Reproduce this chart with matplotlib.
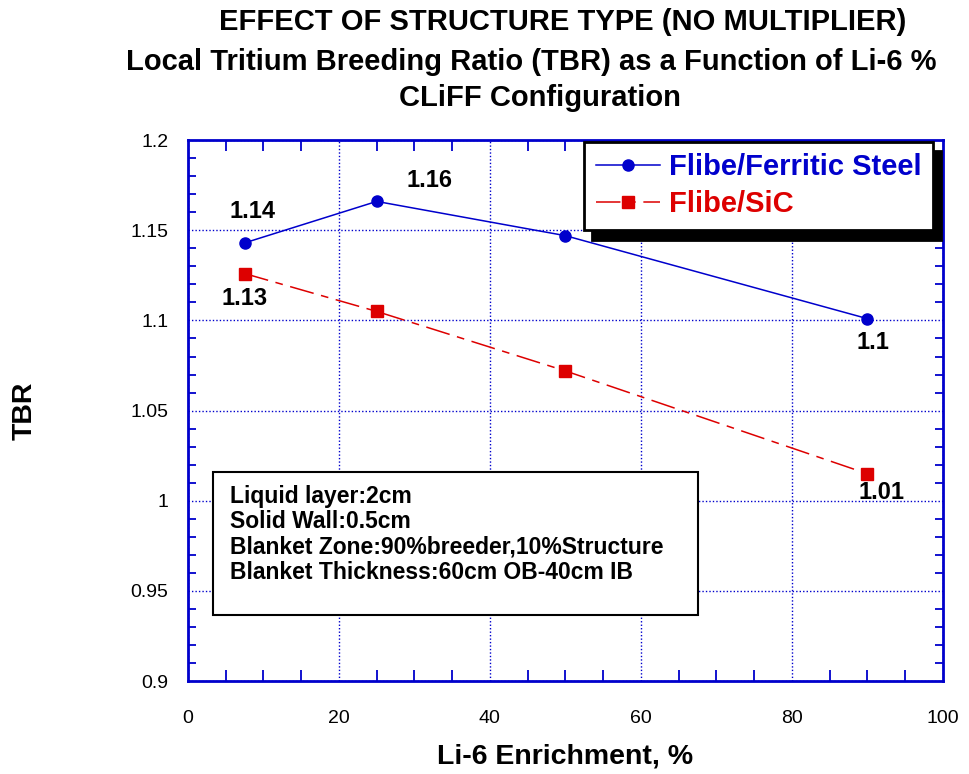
import numpy as np
import matplotlib.pyplot as plt
from matplotlib.ticker import MultipleLocator
from matplotlib.patches import Rectangle

plt.rcParams['font.family'] = ['Liberation Sans', 'DejaVu Sans']

## Data
li6 = [7.5, 25, 50, 90]
tbr_fs = [1.143, 1.166, 1.147, 1.101]
tbr_sic = [1.126, 1.105, 1.072, 1.015]
lbl_fs = ['1.14', '1.16', '', '1.1']
lbl_sic = ['1.13', '', '', '1.01']
ytick_vals = [0.9, 0.95, 1.0, 1.05, 1.1, 1.15, 1.2]
ytick_lbls = ['0.9', '0.95', '1', '1.05', '1.1', '1.15', '1.2']
title_lines = ['EFFECT OF STRUCTURE TYPE (NO MULTIPLIER)',
               'Local Tritium Breeding Ratio (TBR) as a Function of Li-6 %',
               'CLiFF Configuration']

blue = '#0000cc'
red = '#dd0000'

fig = plt.figure(figsize=(9.69, 7.74), dpi=100)
ax = fig.add_axes([0.194, 0.120, 0.779, 0.699])

ax.plot(li6, tbr_fs, color=blue, lw=1.1, marker='o', ms=8, label='Flibe/Ferritic Steel')
ax.plot(li6, tbr_sic, color=red, lw=1.1, marker='s', ms=8.5, dashes=(16, 5, 5, 5),
        label='Flibe/SiC')

ax.set_xlim(0, 100)
ax.set_ylim(0.9, 1.2)
ax.xaxis.set_major_locator(MultipleLocator(20))
ax.xaxis.set_minor_locator(MultipleLocator(5))
ax.set_yticks(ytick_vals)
ax.set_yticklabels(ytick_lbls)
ax.yaxis.set_minor_locator(MultipleLocator(0.01))

ax.tick_params(which='major', direction='in', length=0, labelsize=14, colors=blue,
               labelcolor='black')
ax.tick_params(axis='x', which='major', pad=21)
ax.tick_params(axis='y', which='major', pad=14)
ax.tick_params(axis='y', which='minor', direction='in', length=6, width=1.3, color=blue,
               left=True, right=True)
ax.tick_params(axis='x', which='minor', direction='in', length=8, width=1.3, color=blue,
               bottom=True, top=True)
for s in ax.spines.values():
    s.set_color(blue)
    s.set_linewidth(2)
ax.grid(True, which='major', color=blue, ls=(0, (1, 1.5)), lw=1)

# point labels (offsets in points)
offs_fs = [(6, 14), (38, 7), (0, 0), (4, -9)]
for x, y, t, o in zip(li6, tbr_fs, lbl_fs, offs_fs):
    if t:
        ax.annotate(t, (x, y), xytext=o, textcoords='offset points', ha='center',
                    va='bottom' if o[1] > 0 else 'top', fontsize=17, fontweight='bold')
offs_sic = [(0, -10), (0, 0), (0, 0), (10, -5)]
for x, y, t, o in zip(li6, tbr_sic, lbl_sic, offs_sic):
    if t:
        ax.annotate(t, (x, y), xytext=o, textcoords='offset points', ha='center',
                    va='top', fontsize=17, fontweight='bold')

leg = ax.legend(loc='upper right', bbox_to_anchor=(0.987, 0.997), fontsize=21,
                frameon=True, fancybox=False,
                shadow={'color': 'black', 'alpha': 1, 'ox': 6, 'oy': -7},
                handlelength=2.2, borderpad=0.4, labelspacing=0.3, handletextpad=0.3,
                borderaxespad=0)
leg.get_frame().set_edgecolor('black')
leg.get_frame().set_linewidth(2)
for txt, c in zip(leg.get_texts(), [blue, red]):
    txt.set_color(c)
    txt.set_fontweight('bold')

ax.add_patch(Rectangle((0.033, 0.122), 0.642, 0.264, transform=ax.transAxes,
                       fc='white', ec='black', lw=1.5, zorder=3))
info = ('Liquid layer:2cm\nSolid Wall:0.5cm\n'
        'Blanket Zone:90%breeder,10%Structure\nBlanket Thickness:60cm OB-40cm IB')
ax.text(0.056, 0.362, info, transform=ax.transAxes, fontsize=16.5, fontweight='bold',
        va='top', ha='left', linespacing=1.12, zorder=4)

ax.set_xlabel('Li-6 Enrichment, %', fontsize=20.5, fontweight='bold', labelpad=12)
ax.set_ylabel('TBR', fontsize=20.5, fontweight='bold', labelpad=67)

for line, xc, yc in zip(title_lines, [563, 531, 540], [22, 62, 98]):
    fig.text(xc / 969, 1 - yc / 774, line, fontsize=21, fontweight='bold',
             ha='center', va='center')

fig.savefig('out.png', dpi=100)
